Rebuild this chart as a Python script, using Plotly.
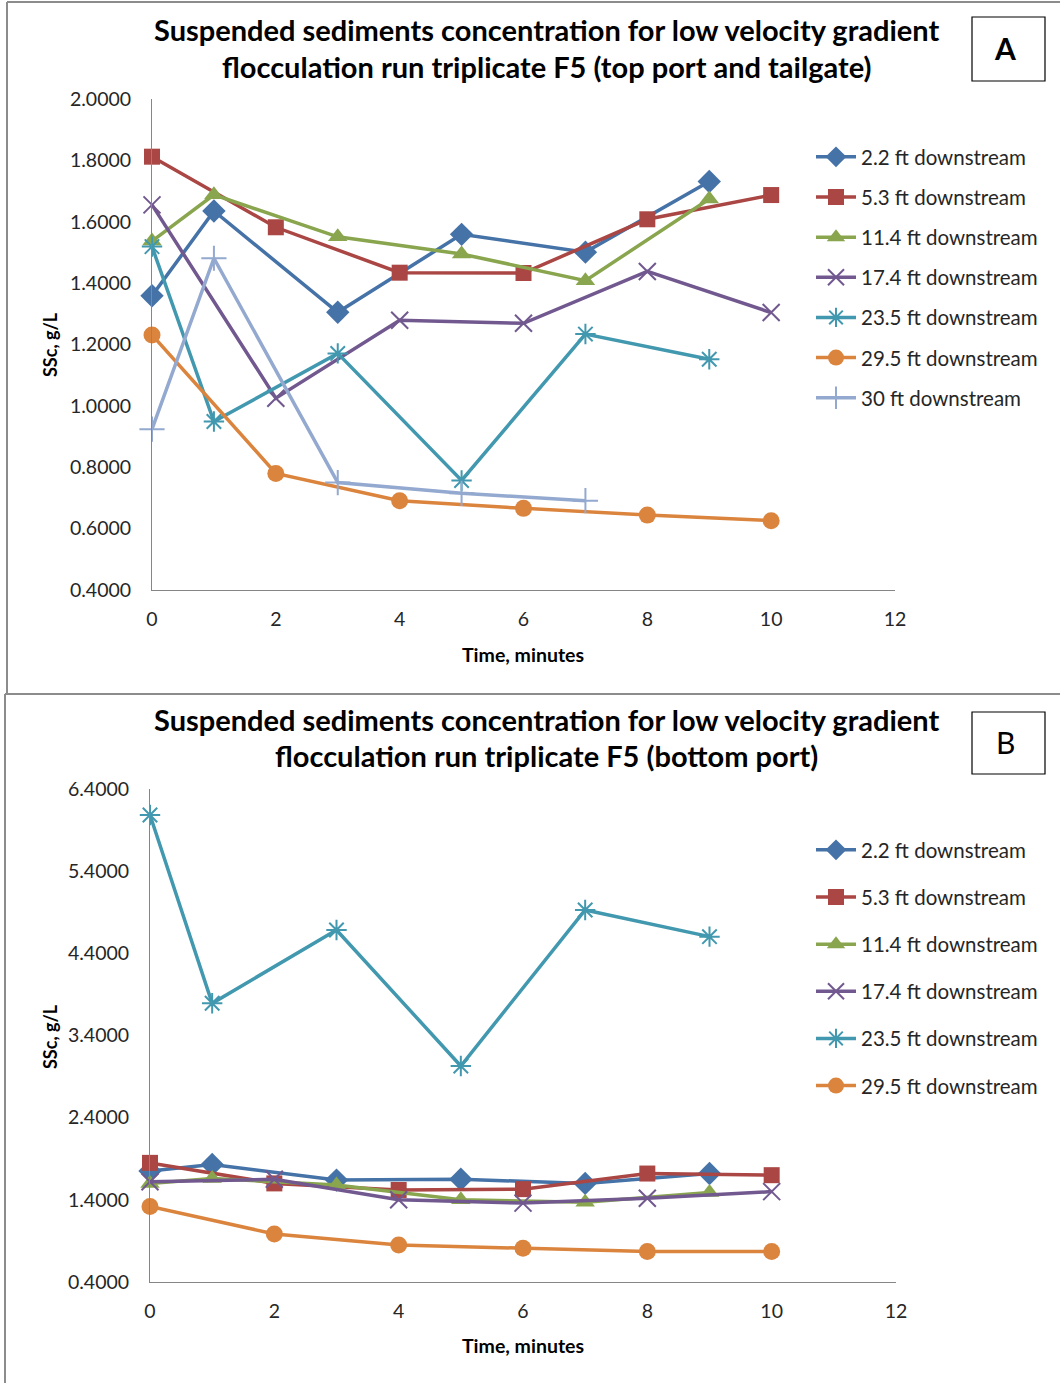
import plotly.graph_objects as go

W, H = 1060, 1383

# ---- data: top port and tailgate (panel A) ----
series_names_a = ["2.2 ft downstream", "5.3 ft downstream", "11.4 ft downstream",
                  "17.4 ft downstream", "23.5 ft downstream", "29.5 ft downstream",
                  "30 ft downstream"]
t_22_a = [0, 1, 3, 5, 7, 9]
ssc_22_a = [1.359, 1.635, 1.305, 1.559, 1.501, 1.731]
t_53_a = [0, 2, 4, 6, 8, 10]
ssc_53_a = [1.812, 1.582, 1.434, 1.433, 1.608, 1.687]
t_114_a = [0, 1, 3, 5, 7, 9]
ssc_114_a = [1.537, 1.688, 1.551, 1.495, 1.408, 1.674]
t_174_a = [0, 2, 4, 6, 8, 10]
ssc_174_a = [1.655, 1.025, 1.279, 1.269, 1.438, 1.304]
t_235_a = [0, 1, 3, 5, 7, 9]
ssc_235_a = [1.519, 0.949, 1.171, 0.757, 1.234, 1.152]
t_295_a = [0, 2, 4, 6, 8, 10]
ssc_295_a = [1.231, 0.780, 0.691, 0.666, 0.644, 0.626]
t_30_a = [0, 1, 3, 5, 7]
ssc_30_a = [0.924, 1.481, 0.750, 0.715, 0.691]

# ---- data: bottom port (panel B) ----
series_names_b = series_names_a[:6]
t_22_b = [0, 1, 3, 5, 7, 9]
ssc_22_b = [1.75, 1.83, 1.64, 1.65, 1.60, 1.72]
t_53_b = [0, 2, 4, 6, 8, 10]
ssc_53_b = [1.85, 1.60, 1.52, 1.53, 1.72, 1.70]
t_114_b = [0, 1, 3, 5, 7, 9]
ssc_114_b = [1.60, 1.66, 1.58, 1.40, 1.37, 1.49]
t_174_b = [0, 2, 4, 6, 8, 10]
ssc_174_b = [1.62, 1.65, 1.40, 1.36, 1.42, 1.50]
t_235_b = [0, 1, 3, 5, 7, 9]
ssc_235_b = [6.084, 3.792, 4.684, 3.029, 4.928, 4.603]
t_295_b = [0, 2, 4, 6, 8, 10]
ssc_295_b = [1.318, 0.985, 0.851, 0.810, 0.770, 0.770]

x_ticks = [0, 2, 4, 6, 8, 10, 12]
y_ticks_a = [0.4, 0.6, 0.8, 1.0, 1.2, 1.4, 1.6, 1.8, 2.0]
y_ticks_b = [0.4, 1.4, 2.4, 3.4, 4.4, 5.4, 6.4]

title_a = ["Suspended sediments concentration for low velocity gradient",
           "flocculation run triplicate F5 (top port and tailgate)"]
title_b = ["Suspended sediments concentration for low velocity gradient",
           "flocculation run triplicate F5 (bottom port)"]

colors = ["#4572A7", "#AA4643", "#89A54E", "#71588F", "#4198AF", "#DB843D", "#93A9CF"]
symbols = ["diamond", "square", "triangle-up", "x-thin-open", "asterisk-open",
           "circle", "cross-thin-open"]
sizes = [18, 16, 17, 17, 17, 17, 18]

FONT = "Lato, 'Open Sans', sans-serif"
TXT = "#262626"


def px(x):
    return x / W


def py(y):
    return 1 - y / H


fig = go.Figure()

data_a = [(t_22_a, ssc_22_a), (t_53_a, ssc_53_a), (t_114_a, ssc_114_a),
          (t_174_a, ssc_174_a), (t_235_a, ssc_235_a), (t_295_a, ssc_295_a),
          (t_30_a, ssc_30_a)]
data_b = [(t_22_b, ssc_22_b), (t_53_b, ssc_53_b), (t_114_b, ssc_114_b),
          (t_174_b, ssc_174_b), (t_235_b, ssc_235_b), (t_295_b, ssc_295_b)]


def marker_for(i):
    open_sym = symbols[i].endswith("open")
    return dict(symbol=symbols[i], size=sizes[i], color=colors[i],
                line=dict(color=colors[i], width=2 if open_sym else 0))


for i, (t, v) in enumerate(data_a):
    fig.add_trace(go.Scatter(
        x=t, y=v, name=series_names_a[i], mode="lines+markers",
        line=dict(color=colors[i], width=3.5), marker=marker_for(i),
        xaxis="x", yaxis="y", legend="legend", legendgroup="a%d" % i,
        cliponaxis=False))

for i, (t, v) in enumerate(data_b):
    fig.add_trace(go.Scatter(
        x=t, y=v, name=series_names_b[i], mode="lines+markers",
        line=dict(color=colors[i], width=3.5), marker=marker_for(i),
        xaxis="x2", yaxis="y2", legend="legend2", legendgroup="b%d" % i,
        cliponaxis=False))

axis_common = dict(showgrid=False, zeroline=False, showline=True,
                   linecolor="#868686", linewidth=1, ticks="", automargin=False,
                   tickfont=dict(family=FONT, size=19.5, color=TXT))

legend_common = dict(xref="container", yref="container", xanchor="left",
                     yanchor="top", traceorder="grouped",
                     font=dict(family=FONT, size=20.5, color=TXT),
                     bgcolor="rgba(0,0,0,0)", itemwidth=40)

fig.update_layout(
    width=W, height=H,
    margin=dict(l=0, r=0, t=0, b=0, pad=0, autoexpand=False),
    paper_bgcolor="white", plot_bgcolor="white",
    xaxis=dict(domain=[px(152), px(895)], range=[0, 12], tickvals=x_ticks,
               anchor="y", ticklabelstandoff=12, **axis_common),
    yaxis=dict(domain=[py(590), py(99)], range=[0.4, 2.0], tickvals=y_ticks_a,
               tickformat=".4f", anchor="x", ticklabelstandoff=16, **axis_common),
    xaxis2=dict(domain=[px(150), px(896)], range=[0, 12], tickvals=x_ticks,
                anchor="y2", ticklabelstandoff=12, **axis_common),
    yaxis2=dict(domain=[py(1282), py(789)], range=[0.4, 6.4], tickvals=y_ticks_b,
                tickformat=".4f", anchor="x2", ticklabelstandoff=16, **axis_common),
    legend=dict(x=px(811), y=py(137), tracegroupgap=10.5, **legend_common),
    legend2=dict(x=px(811), y=py(830), tracegroupgap=17.5, **legend_common),
    showlegend=True,
)

annotations = []
# chart titles
for lines, y0 in ((title_a, 30), (title_b, 719)):
    for k, line in enumerate(lines):
        annotations.append(dict(
            x=px(546), y=py(y0 + 37 * k), xref="paper", yref="paper",
            text="<b>%s</b>" % line, showarrow=False,
            font=dict(family=FONT, size=29, color="black"),
            xanchor="center", yanchor="middle"))
# axis titles
for yc in (345, 1037):
    annotations.append(dict(
        x=px(50), y=py(yc), xref="paper", yref="paper", text="<b>SSc, g/L</b>",
        textangle=-90, showarrow=False,
        font=dict(family=FONT, size=18, color="black"),
        xanchor="center", yanchor="middle"))
for yc in (654, 1345):
    annotations.append(dict(
        x=px(523), y=py(yc), xref="paper", yref="paper", text="<b>Time, minutes</b>",
        showarrow=False, font=dict(family=FONT, size=19.5, color="black"),
        xanchor="center", yanchor="middle"))
# panel letters
annotations.append(dict(x=px(1005), y=py(48), xref="paper", yref="paper",
                        text="<b>A</b>", showarrow=False,
                        font=dict(family=FONT, size=30, color="black"),
                        xanchor="center", yanchor="middle"))
annotations.append(dict(x=px(1005), y=py(742), xref="paper", yref="paper",
                        text="B", showarrow=False,
                        font=dict(family=FONT, size=30, color="black"),
                        xanchor="center", yanchor="middle"))
fig.update_layout(annotations=annotations)

border = dict(color="#8C8C8C", width=2)
shapes = [
    # panel frames
    dict(type="line", xref="paper", yref="paper", x0=px(7), x1=1, y0=py(2), y1=py(2), line=border),
    dict(type="line", xref="paper", yref="paper", x0=px(7), x1=px(7), y0=py(2), y1=py(694), line=border),
    dict(type="line", xref="paper", yref="paper", x0=px(5), x1=1, y0=py(694), y1=py(694), line=border),
    dict(type="line", xref="paper", yref="paper", x0=px(5), x1=px(5), y0=py(694), y1=0, line=border),
    # letter boxes
    dict(type="rect", xref="paper", yref="paper", x0=px(972), x1=px(1045), y0=py(81), y1=py(17),
         line=dict(color="black", width=1.2)),
    dict(type="rect", xref="paper", yref="paper", x0=px(972), x1=px(1045), y0=py(774), y1=py(712),
         line=dict(color="black", width=1.2)),
]
fig.update_layout(shapes=shapes)

fig.write_html("out.html")
